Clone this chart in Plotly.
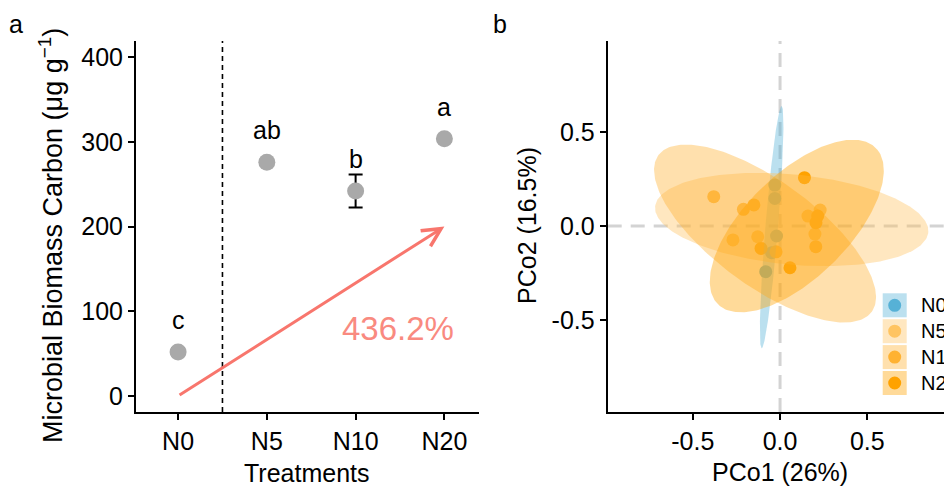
import numpy as np
import plotly.graph_objects as go

W, H = 944, 487
FONT = "Liberation Sans, Arial, Helvetica, sans-serif"

# ---------------- Panel a data ----------------
treatments = ["N0", "N5", "N10", "N20"]
mbc_mean = [52, 276, 242, 303.5]
mbc_se = [4, 3, 19.5, 3]
sig_letters = ["c", "ab", "b", "a"]
letter_y = [89.7, 313.9, 280.2, 341]
increase_label = "436.2%"
arrow_from = ("N0", 0)
arrow_to = ("N20", 200)
label_pos = (2.48, 80)

# ---------------- Panel b data ----------------
groups = ["N0", "N5", "N10", "N20"]
pco1 = {
    "N0": [-0.03, -0.03, -0.02, -0.048, -0.082],
    "N5": [0.16, 0.23, 0.20, -0.27, -0.128],
    "N10": [-0.38, -0.21, -0.15, -0.023, 0.205],
    "N20": [0.14, 0.057, -0.109, 0.216, 0.206],
}
pco2 = {
    "N0": [0.218, 0.147, -0.053, -0.142, -0.243],
    "N5": [0.053, 0.085, -0.043, -0.074, -0.057],
    "N10": [0.156, 0.089, 0.112, -0.137, -0.110],
    "N20": [0.257, -0.222, -0.119, 0.053, 0.018],
}
# ellipse parameters: centre x, centre y, semi-major, semi-minor, angle (deg)
ell_cx = {"N0": -0.048, "N5": 0.067, "N10": -0.086, "N20": 0.096}
ell_cy = {"N0": -0.006, "N5": 0.035, "N10": -0.040, "N20": 0.0}
ell_a = {"N0": 0.647, "N5": 0.786, "N10": 0.74, "N20": 0.615}
ell_b = {"N0": 0.036, "N5": 0.24, "N10": 0.285, "N20": 0.285}
ell_ang = {"N0": 84.9, "N5": -4.9, "N10": -33.6, "N20": 41.3}
pco1_label = "PCo1 (26%)"
pco2_label = "PCo2 (16.5%)"
b_ticks = [-0.5, 0.0, 0.5]
b_ticktext = ["-0.5", "0.0", "0.5"]

colors = {"N0": (86, 177, 214), "N5": (255, 196, 97), "N10": (255, 178, 50), "N20": (255, 162, 0)}
FILL_ALPHA = 0.4
SALMON = "#F8766D"


def rgb(c):
    return "rgb(%d,%d,%d)" % c


def rgba(c, a):
    return "rgba(%d,%d,%d,%.2f)" % (c[0], c[1], c[2], a)


def over_white(c, a):
    return rgb(tuple(int(round(255 - a * (255 - v))) for v in c))


def px_x(p):
    return p / W


def px_y(p):
    return 1 - p / H


fig = go.Figure()

# ---------- Panel a ----------
fig.add_trace(go.Scatter(
    x=treatments, y=mbc_mean, mode="markers",
    marker=dict(size=17, color="#A9A9A9"),
    error_y=dict(type="data", array=mbc_se, color="black", thickness=2, width=7),
    xaxis="x", yaxis="y", showlegend=False, hoverinfo="skip",
))

# ---------- Panel b: points first, ellipses on top ----------
for g in groups:
    fig.add_trace(go.Scatter(
        x=pco1[g], y=pco2[g], mode="markers",
        marker=dict(size=13, color=rgb(colors[g])),
        xaxis="x2", yaxis="y2", showlegend=False, hoverinfo="skip",
    ))

t = np.linspace(0, 2 * np.pi, 240)
for g in groups:
    th = np.deg2rad(ell_ang[g])
    ex = ell_cx[g] + ell_a[g] * np.cos(th) * np.cos(t) - ell_b[g] * np.sin(th) * np.sin(t)
    ey = ell_cy[g] + ell_a[g] * np.sin(th) * np.cos(t) + ell_b[g] * np.cos(th) * np.sin(t)
    fig.add_trace(go.Scatter(
        x=ex, y=ey, mode="lines", fill="toself",
        fillcolor=rgba(colors[g], FILL_ALPHA), line=dict(width=0),
        xaxis="x2", yaxis="y2", showlegend=False, hoverinfo="skip",
    ))

ann = []
# significance letters
for tr, lt, ly in zip(treatments, sig_letters, letter_y):
    ann.append(dict(x=tr, y=ly, xref="x", yref="y", text=lt, showarrow=False,
                    font=dict(size=25, color="black", family=FONT),
                    xanchor="center", yanchor="middle"))
# arrow
ann.append(dict(x=treatments.index(arrow_to[0]), y=arrow_to[1],
                ax=treatments.index(arrow_from[0]), ay=arrow_from[1],
                xref="x", yref="y", axref="x", ayref="y", text="", showarrow=True,
                arrowhead=5, arrowsize=1.2, arrowwidth=3, arrowcolor=SALMON, standoff=0))
ann.append(dict(x=label_pos[0], y=label_pos[1], xref="x", yref="y", text=increase_label,
                showarrow=False, xanchor="center", yanchor="middle",
                font=dict(size=33, color="#F98A80", family=FONT)))


def paper_text(x, y, text, size=25, angle=0, xanchor="center"):
    ann.append(dict(x=px_x(x), y=px_y(y), xref="paper", yref="paper", text=text,
                    textangle=angle, showarrow=False, xanchor=xanchor, yanchor="middle",
                    font=dict(size=size, color="black", family=FONT)))


# axis titles and panel labels
paper_text(51, 236, "Microbial Biomass Carbon (μg g<sup>−1</sup>)", size=27, angle=-90)
paper_text(307, 473, "Treatments")
paper_text(527, 226, pco2_label, angle=-90)
paper_text(780, 472, pco1_label)
paper_text(16, 24, "a")
paper_text(500, 24, "b")

shapes = []
# panel a dashed separator between N0 and N5
shapes.append(dict(type="line", xref="x", yref="y domain", x0=0.5, x1=0.5, y0=0, y1=1,
                   line=dict(color="black", width=1.6, dash="5px,4px")))
# panel b reference lines
shapes.append(dict(type="line", xref="x2", yref="y2 domain", x0=0, x1=0, y0=0, y1=1,
                   layer="below", line=dict(color="#D3D3D3", width=3, dash="14px,9px")))
shapes.append(dict(type="line", xref="x2 domain", yref="y2", x0=0, x1=1, y0=0, y1=0,
                   layer="below", line=dict(color="#D3D3D3", width=3, dash="14px,9px")))

# legend (manual, ggplot-style keys)
key_x0, key_x1 = 882.7, 906.7
key_top = 293.3
key_step = 25.9
for i, g in enumerate(groups):
    y0 = key_top + i * key_step
    y1 = y0 + 24
    shapes.append(dict(type="rect", xref="paper", yref="paper",
                       x0=px_x(key_x0), x1=px_x(key_x1), y0=px_y(y1), y1=px_y(y0),
                       fillcolor=over_white(colors[g], FILL_ALPHA), line=dict(width=0)))
    cx, cy = (key_x0 + key_x1) / 2, (y0 + y1) / 2
    shapes.append(dict(type="circle", xref="paper", yref="paper",
                       x0=px_x(cx - 6.5), x1=px_x(cx + 6.5), y0=px_y(cy + 6.5), y1=px_y(cy - 6.5),
                       fillcolor=rgb(colors[g]), line=dict(width=0)))
    paper_text(919, cy, g, size=20, xanchor="left")

axis_common = dict(showgrid=False, zeroline=False, showline=True, linecolor="black",
                   linewidth=2, ticks="outside", ticklen=6, tickwidth=2, tickcolor="black",
                   tickfont=dict(size=25, color="black", family=FONT), mirror=False)

ydom = [px_y(412), px_y(41)]
fig.update_layout(
    width=W, height=H, margin=dict(l=0, r=0, t=0, b=0),
    paper_bgcolor="white", plot_bgcolor="white",
    font=dict(family=FONT, color="black"),
    xaxis=dict(domain=[px_x(136), px_x(479)], type="category", categoryorder="array",
               categoryarray=treatments, range=[-0.474, 3.39], anchor="y", **axis_common),
    yaxis=dict(domain=ydom, range=[-18.9, 419], tickvals=[0, 100, 200, 300, 400],
               anchor="x", **axis_common),
    xaxis2=dict(domain=[px_x(607.7), 1.0], range=[-0.988, 0.94], tickvals=b_ticks,
                ticktext=b_ticktext, anchor="y2", **axis_common),
    yaxis2=dict(domain=ydom, range=[-0.989, 0.984], tickvals=b_ticks, ticktext=b_ticktext,
                anchor="x2", **axis_common),
    annotations=ann, shapes=shapes, showlegend=False,
)

fig.write_html("out.html")
